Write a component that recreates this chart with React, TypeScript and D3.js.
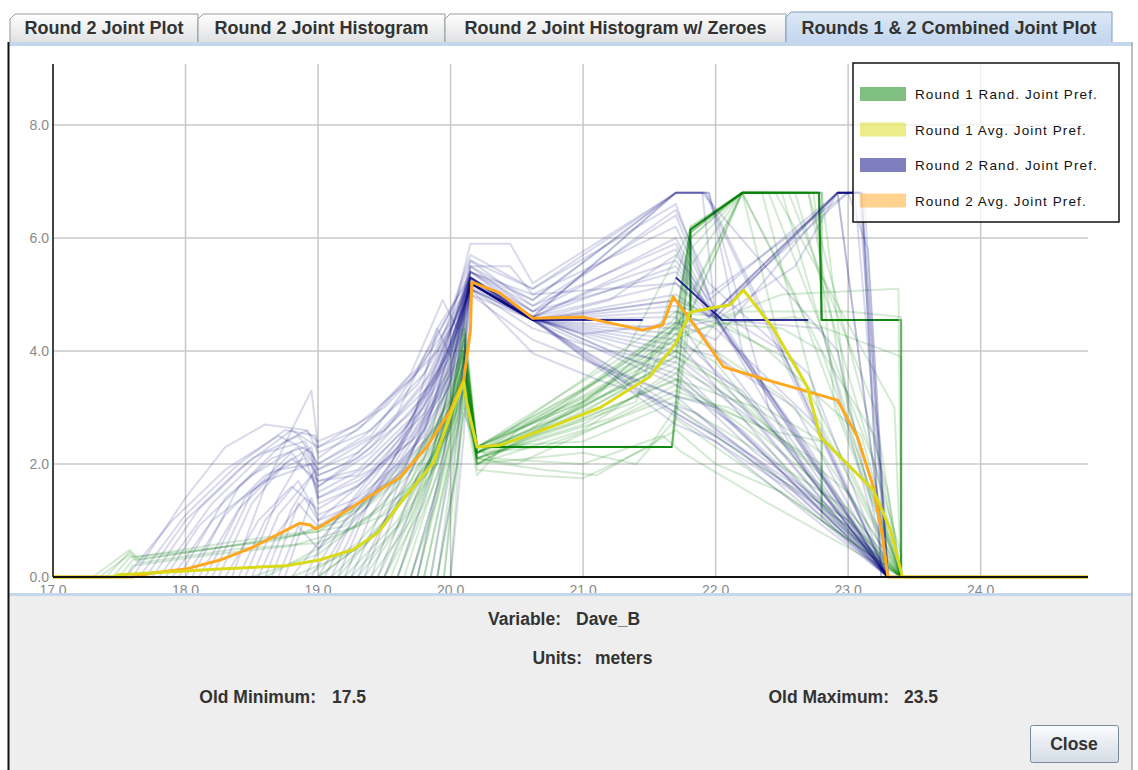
import * as d3 from "d3";
import React from "react";

// axis extents
const X_MIN = 17.0;
const X_MAX = 24.81;
const Y_MAX = 9.08;

const xTicks = [17, 18, 19, 20, 21, 22, 23, 24];
const yTicks = [0, 2, 4, 6, 8];

const tabLabels = [
    "Round 2 Joint Plot",
    "Round 2 Joint Histogram",
    "Round 2 Joint Histogram w/ Zeroes",
    "Rounds 1 & 2 Combined Joint Plot",
];

const legendLabels = [
    "Round 1 Rand. Joint Pref.",
    "Round 1 Avg. Joint Pref.",
    "Round 2 Rand. Joint Pref.",
    "Round 2 Avg. Joint Pref.",
];

const infoVariable = "Dave_B";
const infoUnits = "meters";
const oldMinimum = "17.5";
const oldMaximum = "23.5";

// Round 1 random joint preference curves (green)
const round1Rand: Array<Array<[number, number]>> = [
    [[17.3, 0], [17.58, 0.48], [17.65, 0.3], [18.2, 0.5], [18.7, 0.7], [19.0, 0.8], [19.4, 1.4], [19.8, 2.4], [20.1, 4.0], [20.2, 2.2], [21.0, 3.0], [21.7, 4.0], [21.81, 6.2], [22.2, 6.8], [22.5, 4.0], [23.4, 0]],
    [[17.4, 0], [17.58, 0.45], [17.62, 0.35], [18.3, 0.6], [18.9, 0.8], [19.3, 1.2], [19.7, 2.0], [20.1, 3.5], [20.2, 2.3], [21.67, 2.3], [21.81, 6.0], [22.2, 6.8], [22.8, 4.0], [23.4, 0]],
    [[17.5, 0], [17.6, 0.3], [18.5, 0.6], [19.2, 0.9], [19.6, 1.7], [20.0, 3.0], [20.1, 4.5], [20.2, 2.1], [21.2, 3.0], [21.72, 3.5], [22.3, 2.5], [22.8, 1.3], [23.4, 0]],
    [[18.8, 0], [19.3, 0.5], [19.7, 1.5], [20.0, 3.0], [20.1, 4.2], [20.2, 2.2], [20.6, 2.6], [21.7, 4.5], [21.81, 6.1], [22.2, 6.8], [22.78, 6.8], [22.8, 4.55], [23.4, 4.55], [23.4, 0]],
    [[19.2, 0], [19.6, 1.0], [19.9, 2.3], [20.1, 4.0], [20.2, 2.0], [20.8, 2.8], [21.7, 4.2], [22.0, 3.8], [22.8, 1.5], [23.4, 0]],
    [[19.5, 0], [19.8, 1.3], [20.05, 3.2], [20.1, 3.9], [20.2, 2.3], [21.0, 3.1], [21.7, 4.4], [22.2, 6.8], [22.6, 5.0], [23.4, 0]],
    [[19.6, 0], [19.9, 1.8], [20.1, 3.6], [20.2, 2.1], [20.5, 2.0], [21.7, 3.3], [22.4, 2.6], [22.8, 2.4], [22.8, 1.1], [23.4, 0]],
    [[19.75, 0], [20.0, 2.5], [20.1, 4.4], [20.2, 2.3], [21.67, 2.3], [21.81, 6.15], [22.2, 6.8], [22.74, 6.8], [22.9, 3.0], [23.4, 0]],
    [[19.85, 0], [20.05, 2.8], [20.1, 3.4], [20.2, 1.9], [20.6, 1.8], [21.0, 1.75], [21.5, 2.3], [21.7, 3.0], [22.3, 2.0], [23.0, 1.0], [23.4, 0]],
    [[19.95, 0], [20.1, 3.0], [20.2, 2.2], [21.7, 3.8], [21.81, 5.5], [22.2, 6.8], [22.7, 6.8], [23.0, 3.0], [23.4, 0]],
    [[17.35, 0], [17.58, 0.4], [17.65, 0.25], [18.4, 0.5], [19.0, 0.6], [19.5, 1.1], [19.9, 2.0], [20.1, 3.3], [20.2, 2.0], [21.0, 2.6], [21.7, 3.7], [22.1, 3.2], [23.0, 1.5], [23.4, 0]],
    [[18.5, 0], [19.0, 0.4], [19.5, 1.3], [19.85, 2.5], [20.1, 4.7], [20.2, 2.3], [21.2, 3.6], [21.8, 4.6], [22.2, 6.8], [22.8, 6.8], [23.0, 3.0], [23.4, 0]],
    [[19.0, 0], [19.4, 0.7], [19.8, 1.8], [20.1, 3.7], [20.2, 2.1], [21.0, 2.7], [21.7, 3.6], [22.0, 4.5], [22.5, 4.4], [22.8, 4.0], [23.2, 2.5], [23.4, 0]],
    [[19.3, 0], [19.6, 0.9], [19.95, 2.6], [20.1, 4.1], [20.2, 2.3], [21.7, 3.9], [21.81, 6.0], [22.2, 6.8], [22.5, 6.8], [23.1, 2.0], [23.4, 0]],
    [[19.7, 0], [19.95, 2.0], [20.1, 3.2], [20.2, 2.1], [20.4, 2.0], [20.7, 1.9], [21.1, 1.8], [21.7, 2.6], [22.0, 2.0], [22.5, 1.5], [23.4, 0]],
    [[19.4, 0], [19.7, 1.0], [20.0, 2.7], [20.1, 3.5], [20.2, 2.2], [20.9, 2.9], [21.7, 4.3], [21.81, 6.2], [22.2, 6.8], [22.45, 6.8], [23.35, 3.0], [23.4, 0]],
    [[18.9, 0], [19.3, 0.6], [19.7, 1.7], [20.0, 3.2], [20.1, 4.3], [20.2, 2.3], [20.8, 3.0], [21.7, 4.5], [22.05, 4.6], [22.5, 5.0], [23.38, 5.1], [23.4, 0]],
    [[17.45, 0], [17.58, 0.35], [18.0, 0.45], [18.7, 0.65], [19.2, 1.0], [19.7, 1.9], [20.0, 3.0], [20.1, 3.8], [20.2, 2.2], [21.7, 4.1], [22.2, 6.8], [22.4, 6.8], [23.2, 2.0], [23.4, 0]],
    [[19.65, 0], [19.95, 2.2], [20.1, 3.9], [20.2, 2.0], [21.0, 2.2], [21.4, 2.0], [21.7, 2.8], [22.0, 2.3], [22.8, 1.0], [23.4, 0]],
    [[19.9, 0], [20.08, 3.0], [20.1, 3.5], [20.2, 2.3], [21.67, 2.3], [21.81, 5.8], [22.2, 6.8], [22.8, 6.8], [22.8, 4.55], [23.4, 4.55], [23.4, 0]],
    [[19.1, 0], [19.5, 0.9], [19.9, 2.2], [20.1, 4.0], [20.2, 2.0], [21.3, 3.3], [21.75, 4.6], [22.0, 4.5], [22.6, 3.8], [23.4, 0]],
    [[19.8, 0], [20.0, 2.1], [20.1, 3.1], [20.2, 1.8], [20.5, 2.6], [21.7, 4.0], [22.0, 3.5], [22.8, 2.4], [22.8, 1.2], [23.4, 0]],
    [[20.0, 0], [20.1, 3.3], [20.2, 2.3], [21.7, 4.2], [22.2, 4.7], [23.0, 4.7], [23.4, 4.6], [23.4, 0]],
    [[19.35, 0], [19.7, 1.2], [19.95, 2.6], [20.1, 3.8], [20.2, 2.2], [21.0, 2.9], [21.7, 3.9], [22.0, 3.5], [22.8, 1.8], [23.4, 0]],
    [[19.55, 0], [19.8, 1.5], [20.0, 2.8], [20.1, 3.6], [20.2, 2.3], [21.67, 2.3], [21.81, 4.6], [21.81, 6.15], [22.2, 6.8], [22.78, 6.8], [22.8, 4.55], [23.4, 4.55], [23.4, 0]],
    [[19.45, 0], [19.75, 1.4], [20.0, 3.0], [20.1, 4.1], [20.2, 2.2], [20.9, 2.7], [21.7, 3.5], [22.3, 3.0], [22.8, 2.2], [23.4, 0]],
    [[18.6, 0], [19.0, 0.5], [19.4, 1.1], [19.8, 2.1], [20.1, 3.9], [20.2, 2.1], [21.5, 3.6], [21.7, 4.5], [21.81, 6.15], [22.2, 6.8], [22.6, 6.8], [23.4, 0.4], [23.4, 0]],
    [[17.55, 0], [17.6, 0.2], [18.2, 0.4], [18.8, 0.55], [19.3, 0.9], [19.7, 1.6], [20.0, 2.6], [20.1, 3.3], [20.2, 2.1], [21.2, 2.8], [21.7, 3.4], [22.2, 2.8], [22.8, 1.6], [23.4, 0]],
    [[19.8, 0], [20.02, 2.4], [20.1, 4.0], [20.2, 2.3], [21.1, 3.2], [21.7, 4.6], [21.81, 6.1], [22.2, 6.8], [22.8, 6.8], [22.8, 4.55], [23.4, 4.55], [23.4, 0]],
    [[19.6, 0], [19.85, 1.7], [20.05, 3.3], [20.1, 4.3], [20.2, 2.2], [20.7, 2.3], [21.7, 3.2], [22.1, 3.0], [22.8, 2.0], [22.8, 1.0], [23.4, 0]],
    [[19.9, 0], [20.05, 2.0], [20.1, 2.9], [20.2, 2.3], [21.67, 2.3], [21.81, 5.0], [22.2, 6.8], [22.7, 6.8], [23.3, 1.5], [23.4, 0]],
    [[19.25, 0], [19.6, 0.9], [19.9, 2.0], [20.1, 3.6], [20.2, 2.0], [21.3, 3.4], [21.7, 4.3], [22.1, 4.5], [22.6, 4.6], [23.4, 3.9], [23.4, 0]],
    [[19.7, 0], [19.9, 1.4], [20.08, 3.4], [20.1, 3.9], [20.2, 2.3], [20.3, 2.1], [21.0, 2.0], [21.6, 2.5], [21.75, 2.2], [22.4, 1.3], [23.4, 0]],
    [[19.0, 0], [19.45, 0.8], [19.85, 2.1], [20.1, 4.2], [20.2, 2.2], [21.0, 3.3], [21.7, 4.4], [22.0, 4.0], [22.5, 3.2], [23.0, 2.0], [23.4, 0]],
    [[19.95, 0], [20.1, 3.7], [20.2, 2.3], [21.3, 3.9], [21.81, 6.15], [22.2, 6.8], [22.55, 6.8], [23.2, 3.0], [23.4, 0]],
    [[19.5, 0], [19.8, 1.6], [20.1, 4.4], [20.2, 2.2], [21.0, 3.5], [21.7, 4.7], [22.0, 4.6], [22.4, 4.0], [23.1, 2.5], [23.4, 0]],
    [[19.15, 0], [19.55, 1.1], [19.95, 2.7], [20.1, 3.6], [20.2, 2.1], [21.4, 3.1], [21.81, 6.1], [22.2, 6.8], [22.35, 6.8], [22.8, 2.8], [22.8, 1.3], [23.4, 0]],
    [[19.75, 0], [20.0, 2.3], [20.1, 3.8], [20.2, 2.3], [21.0, 2.4], [21.7, 3.1], [22.2, 2.4], [23.0, 1.2], [23.4, 0]],
];

// segments shared by most round 1 curves (drawn dark)
const round1Core: Array<Array<[number, number]>> = [
    [[20.2, 2.3], [21.67, 2.3]],
    [[21.81, 4.6], [21.81, 6.15], [22.2, 6.8], [22.78, 6.8], [22.8, 4.55], [23.38, 4.55]],
];

// Round 2 random joint preference curves (blue)
const round2Rand: Array<Array<[number, number]>> = [
    [[17.55, 0], [17.9, 1.0], [18.3, 1.9], [18.7, 2.5], [18.95, 2.2], [19.0, 1.6], [19.4, 2.3], [19.8, 3.4], [20.15, 5.3], [20.62, 4.6], [21.7, 6.8], [21.95, 6.8], [22.4, 3.0], [23.3, 0]],
    [[17.7, 0], [18.0, 1.0], [18.4, 1.9], [18.8, 2.6], [19.0, 2.3], [19.5, 3.0], [19.9, 4.0], [20.15, 5.6], [20.62, 5.1], [21.7, 6.8], [21.9, 6.8], [22.0, 4.6], [22.92, 6.8], [23.1, 6.8], [23.3, 0]],
    [[17.85, 0], [18.1, 0.9], [18.5, 1.8], [18.85, 2.3], [19.0, 1.8], [19.3, 2.1], [19.7, 2.9], [20.0, 4.0], [20.15, 5.2], [20.62, 4.6], [21.2, 5.2], [21.7, 5.6], [22.0, 4.6], [22.7, 2.3], [23.3, 0]],
    [[18.0, 0], [18.3, 1.1], [18.6, 1.8], [18.9, 2.1], [19.0, 1.5], [19.4, 2.0], [19.8, 3.0], [20.15, 5.1], [20.62, 4.6], [21.7, 3.5], [22.3, 2.2], [23.0, 1.0], [23.3, 0]],
    [[18.1, 0], [18.4, 1.2], [18.7, 1.9], [18.95, 2.0], [19.0, 1.3], [19.3, 1.6], [19.7, 2.5], [20.0, 3.7], [20.15, 5.2], [20.62, 4.55], [21.7, 4.2], [22.5, 2.0], [23.3, 0]],
    [[17.6, 0], [18.0, 1.4], [18.3, 2.3], [18.6, 2.7], [18.9, 2.6], [19.0, 2.4], [19.3, 2.7], [19.7, 3.5], [20.0, 4.5], [20.15, 5.9], [20.45, 5.9], [20.62, 5.2], [21.7, 6.8], [21.95, 6.8], [22.2, 4.0], [23.3, 0]],
    [[18.25, 0], [18.5, 1.3], [18.75, 2.0], [18.95, 2.3], [19.0, 1.8], [19.2, 2.0], [19.5, 2.6], [19.85, 3.4], [20.15, 5.3], [20.62, 4.7], [21.7, 6.0], [22.0, 4.6], [23.3, 0]],
    [[18.4, 0], [18.6, 1.0], [18.85, 1.7], [19.0, 1.1], [19.3, 1.4], [19.6, 2.0], [19.95, 3.3], [20.15, 5.0], [20.62, 4.55], [21.7, 2.9], [22.0, 2.5], [23.0, 0.9], [23.3, 0]],
    [[18.55, 0], [18.7, 0.8], [18.9, 1.4], [19.0, 1.0], [19.3, 1.3], [19.6, 1.8], [19.9, 2.7], [20.15, 5.2], [20.62, 4.55], [21.7, 4.8], [22.0, 4.6], [22.92, 6.8], [23.1, 6.8], [23.3, 0]],
    [[18.7, 0], [18.85, 0.9], [19.0, 0.5], [19.3, 1.2], [19.7, 2.2], [20.0, 3.4], [20.15, 5.3], [20.62, 4.6], [21.2, 4.0], [21.7, 3.8], [22.6, 2.2], [23.3, 0]],
    [[18.35, 0], [18.6, 1.6], [18.8, 2.6], [18.95, 3.3], [19.0, 2.3], [19.3, 2.6], [19.7, 3.6], [19.94, 4.9], [20.05, 4.4], [20.15, 5.6], [20.62, 4.8], [21.7, 6.4], [22.0, 4.7], [23.3, 0]],
    [[18.9, 0], [19.1, 0.9], [19.4, 1.7], [19.7, 2.6], [19.9, 4.4], [20.0, 3.9], [20.15, 5.4], [20.62, 5.0], [21.7, 5.2], [22.0, 4.6], [22.7, 1.8], [23.3, 0]],
    [[19.1, 0], [19.3, 1.0], [19.6, 2.1], [19.9, 3.2], [20.15, 5.1], [20.62, 3.96], [21.1, 3.5], [21.86, 2.9], [22.5, 1.7], [23.3, 0]],
    [[19.3, 0], [19.5, 1.0], [19.8, 2.3], [20.0, 3.5], [20.15, 5.2], [20.62, 4.55], [21.7, 5.0], [21.95, 4.6], [22.92, 6.8], [23.05, 6.8], [23.3, 0]],
    [[19.5, 0], [19.7, 1.2], [19.9, 2.5], [20.15, 5.0], [20.62, 4.2], [21.7, 3.2], [22.0, 2.6], [22.8, 1.3], [23.3, 0]],
    [[19.7, 0], [19.9, 1.6], [20.1, 3.8], [20.15, 5.2], [20.62, 4.55], [21.7, 4.0], [22.2, 3.3], [23.3, 0]],
    [[19.9, 0], [20.05, 2.0], [20.15, 5.5], [20.62, 4.9], [21.7, 6.8], [21.92, 6.8], [22.6, 3.4], [23.3, 0]],
    [[17.8, 0], [18.2, 1.3], [18.6, 2.2], [18.9, 2.4], [19.0, 2.0], [19.4, 2.5], [19.8, 3.8], [20.15, 5.4], [20.62, 4.6], [21.7, 5.8], [21.95, 4.6], [22.92, 6.8], [23.1, 6.8], [23.25, 0]],
    [[18.2, 0], [18.5, 1.5], [18.8, 2.1], [19.0, 1.7], [19.3, 1.9], [19.7, 2.8], [20.0, 4.1], [20.15, 5.25], [20.62, 4.55], [21.7, 4.6], [22.0, 3.6], [23.3, 0]],
    [[18.6, 0], [18.8, 1.2], [18.98, 1.9], [19.0, 1.4], [19.4, 1.9], [19.8, 2.9], [20.15, 5.1], [20.62, 4.55], [21.3, 3.6], [21.7, 3.2], [22.0, 3.0], [23.3, 0]],
    [[19.0, 0], [19.2, 0.8], [19.5, 1.6], [19.8, 2.6], [20.15, 5.1], [20.62, 4.55], [21.7, 4.3], [22.3, 3.0], [23.3, 0]],
    [[17.65, 0], [18.0, 1.1], [18.4, 2.0], [18.75, 2.6], [18.98, 2.5], [19.0, 2.1], [19.4, 2.8], [19.75, 3.7], [20.0, 4.7], [20.15, 5.7], [20.62, 5.1], [21.7, 6.6], [21.95, 5.0], [23.0, 6.8], [23.12, 6.8], [23.3, 0]],
    [[19.2, 0], [19.4, 1.1], [19.7, 2.2], [20.0, 3.6], [20.15, 5.3], [20.62, 4.6], [21.7, 3.7], [22.1, 2.8], [23.3, 0]],
    [[19.6, 0], [19.85, 1.8], [20.1, 4.2], [20.15, 5.2], [20.62, 4.55], [21.7, 4.9], [22.0, 4.0], [23.3, 0]],
    [[18.8, 0], [19.0, 0.6], [19.3, 1.5], [19.6, 2.4], [19.9, 3.6], [20.15, 5.4], [20.62, 4.7], [21.7, 5.4], [21.95, 4.8], [22.5, 4.0], [23.3, 0]],
    [[20.0, 0], [20.1, 2.5], [20.15, 5.2], [20.62, 4.55], [21.7, 3.0], [22.3, 2.1], [23.2, 0.4], [23.3, 0]],
    [[18.45, 0], [18.7, 1.4], [18.9, 2.2], [19.0, 1.9], [19.3, 2.2], [19.6, 2.9], [19.9, 4.4], [20.15, 5.3], [20.62, 4.6], [21.7, 6.8], [21.9, 6.8], [22.92, 4.0], [23.3, 0]],
    [[19.4, 0], [19.6, 1.3], [19.9, 3.0], [20.15, 5.25], [20.62, 4.55], [21.7, 4.4], [22.0, 4.55], [22.6, 5.5], [22.92, 6.8], [23.0, 6.8], [23.15, 5.8], [23.3, 0]],
    [[17.75, 0], [18.1, 1.2], [18.5, 2.1], [18.85, 2.5], [19.0, 2.0], [19.35, 2.5], [19.75, 3.4], [20.05, 4.6], [20.15, 5.4], [20.62, 4.8], [21.7, 5.9], [21.95, 4.7], [22.6, 2.6], [23.3, 0]],
    [[17.95, 0], [18.3, 1.4], [18.65, 2.1], [18.9, 2.3], [19.0, 1.9], [19.5, 2.6], [19.85, 3.6], [20.15, 5.2], [20.62, 4.55], [21.7, 3.4], [22.2, 2.6], [23.1, 0.6], [23.3, 0]],
    [[18.15, 0], [18.45, 1.4], [18.8, 2.2], [19.0, 1.6], [19.4, 2.2], [19.8, 3.2], [20.15, 5.3], [20.62, 4.6], [21.0, 4.3], [21.7, 4.5], [22.0, 4.2], [22.92, 6.8], [23.3, 0]],
    [[18.3, 0], [18.55, 1.0], [18.8, 1.6], [19.0, 1.2], [19.35, 1.7], [19.75, 2.5], [20.15, 5.15], [20.62, 4.55], [21.7, 3.9], [22.2, 3.0], [23.3, 0]],
    [[18.5, 0], [18.7, 1.1], [18.95, 1.8], [19.0, 1.4], [19.3, 1.7], [19.7, 2.4], [20.05, 3.8], [20.15, 5.3], [20.62, 4.6], [21.7, 5.5], [22.0, 4.6], [23.3, 0]],
    [[18.65, 0], [18.85, 1.3], [19.0, 0.9], [19.4, 1.5], [19.8, 2.5], [20.15, 5.2], [20.62, 4.55], [21.7, 4.7], [22.0, 4.4], [22.8, 2.6], [23.3, 0]],
    [[19.05, 0], [19.3, 1.2], [19.6, 2.2], [19.92, 3.7], [20.15, 5.5], [20.45, 5.5], [20.62, 5.0], [21.7, 6.2], [22.0, 4.7], [22.92, 6.8], [23.08, 6.8], [23.3, 0]],
    [[19.25, 0], [19.5, 1.3], [19.8, 2.6], [20.1, 4.4], [20.15, 5.2], [20.62, 4.55], [21.7, 2.7], [22.0, 2.4], [23.3, 0]],
    [[19.45, 0], [19.7, 1.5], [19.95, 3.0], [20.15, 5.4], [20.62, 4.9], [21.7, 6.8], [21.93, 6.8], [22.3, 5.0], [23.3, 0]],
    [[19.75, 0], [19.95, 2.2], [20.15, 5.3], [20.62, 4.55], [21.7, 4.1], [22.0, 3.9], [22.6, 3.0], [23.3, 0]],
    [[19.85, 0], [20.05, 2.6], [20.15, 5.1], [20.62, 4.4], [21.7, 3.6], [22.4, 2.1], [23.3, 0]],
    [[17.9, 0], [18.2, 1.0], [18.6, 1.7], [18.95, 2.0], [19.0, 1.7], [19.3, 1.8], [19.65, 2.6], [20.0, 3.9], [20.15, 5.2], [20.62, 4.6], [21.7, 5.2], [21.95, 4.6], [23.0, 6.8], [23.1, 6.8], [23.25, 0]],
    [[18.75, 0], [18.95, 1.4], [19.0, 1.0], [19.3, 1.6], [19.6, 2.3], [19.9, 3.4], [20.15, 5.3], [20.62, 4.55], [21.7, 4.9], [22.05, 4.55], [22.8, 4.4], [23.3, 0]],
    [[19.15, 0], [19.4, 1.4], [19.75, 2.8], [20.1, 4.6], [20.15, 5.5], [20.62, 4.7], [21.7, 6.5], [21.95, 5.2], [22.7, 3.6], [23.3, 0]],
    [[18.05, 0], [18.4, 1.6], [18.75, 2.4], [18.92, 2.6], [19.0, 2.2], [19.4, 2.6], [19.8, 3.6], [20.15, 5.3], [20.62, 4.55], [21.4, 3.3], [21.86, 2.6], [22.6, 1.5], [23.3, 0]],
    [[19.35, 0], [19.6, 1.6], [19.9, 3.3], [20.15, 5.3], [20.62, 4.55], [21.2, 4.9], [21.7, 5.7], [21.95, 4.9], [22.92, 6.8], [23.3, 0]],
    [[18.95, 0], [19.2, 1.0], [19.55, 2.0], [19.9, 3.8], [20.15, 5.2], [20.62, 4.6], [21.0, 3.9], [21.7, 2.9], [22.2, 2.2], [23.3, 0]],
];

// segments shared by most round 2 curves (drawn dark)
const round2Core: Array<Array<[number, number]>> = [
    [[20.15, 5.2], [20.62, 4.55], [21.45, 4.55]],
    [[21.7, 5.3], [22.05, 4.55], [22.7, 4.55]],
    [[22.92, 6.8], [23.09, 6.8]],
];

const round1Avg: Array<[number, number]> = [
    [17.45, 0], [17.5, 0.04], [18.26, 0.14], [18.76, 0.2], [19.01, 0.3], [19.26, 0.48], [19.45, 0.78], [19.62, 1.31], [19.87, 2.02],
    [20.02, 3.0], [20.1, 3.45], [20.12, 3.1], [20.2, 2.3], [20.37, 2.33], [20.75, 2.65], [21.13, 3.0], [21.5, 3.54], [21.7, 4.14],
    [21.81, 4.69], [22.11, 4.82], [22.21, 5.08], [22.43, 4.42], [22.69, 3.37], [22.79, 2.48], [23.19, 1.54], [23.32, 0.83], [23.41, 0],
];

const round2Avg: Array<[number, number]> = [
    [17.6, 0], [17.75, 0.07], [18.0, 0.14], [18.26, 0.3], [18.51, 0.53], [18.76, 0.83], [18.86, 0.95], [18.94, 0.92], [18.98, 0.85],
    [19.01, 0.88], [19.26, 1.24], [19.62, 1.77], [19.82, 2.3], [20.0, 2.95], [20.1, 3.49], [20.15, 4.37], [20.16, 5.22], [20.37, 5.03],
    [20.62, 4.58], [21.0, 4.6], [21.45, 4.37], [21.6, 4.46], [21.68, 4.96], [21.81, 4.55], [22.06, 3.72], [22.31, 3.54], [22.92, 3.13],
    [23.07, 2.48], [23.19, 1.6], [23.26, 0.71], [23.3, 0],
];

const GREEN = "#008000";
const YELLOW = "#dada18";
const NAVY = "#000080";
const ORANGE = "#ffa71f";
const legendColors = [GREEN, YELLOW, NAVY, ORANGE];

const width = 1138;
const height = 770;
const plot = { left: 53, right: 1088, top: 64, bottom: 577 };
const sans = "'Liberation Sans', Arial, sans-serif";

// tab x edges
const tabEdges = [10, 198, 445, 786, 1112];

const App: React.FC = () => {
    const x = d3.scaleLinear().domain([X_MIN, X_MAX]).range([plot.left, plot.right]);
    const y = d3.scaleLinear().domain([0, Y_MAX]).range([plot.bottom, plot.top]);
    const line = d3.line<[number, number]>().x((d) => x(d[0])).y((d) => y(d[1]));
    // curves sit on zero outside their support
    const full = (pts: Array<[number, number]>) =>
        line([[X_MIN, 0], ...pts, [X_MAX, 0]]) || "";

    return (
        <svg width={width} height={height} style={{ position: "absolute", left: 0, top: 0 }}
            fontFamily={sans}>
            <defs>
                <linearGradient id="tabGrad" x1="0" y1="0" x2="0" y2="1">
                    <stop offset="0" stopColor="#ffffff" />
                    <stop offset="1" stopColor="#dfe0e2" />
                </linearGradient>
                <linearGradient id="tabSel" x1="0" y1="0" x2="0" y2="1">
                    <stop offset="0" stopColor="#dce8f5" />
                    <stop offset="1" stopColor="#c2d6ee" />
                </linearGradient>
                <linearGradient id="btnGrad" x1="0" y1="0" x2="0" y2="1">
                    <stop offset="0" stopColor="#fbfcfd" />
                    <stop offset="1" stopColor="#d3dbe4" />
                </linearGradient>
                <clipPath id="panelClip">
                    <rect x={10} y={46} width={1120} height={547} />
                </clipPath>
                <clipPath id="plotClip">
                    <rect x={plot.left} y={plot.top} width={plot.right - plot.left} height={plot.bottom - plot.top + 2} />
                </clipPath>
            </defs>

            <rect width={width} height={height} fill="#ffffff" />

            {/* tabs */}
            {tabLabels.map((label, i) => {
                const x0 = tabEdges[i];
                const x1 = tabEdges[i + 1];
                const sel = i === tabLabels.length - 1;
                const y0 = sel ? 12 : 14;
                return (
                    <g key={label}>
                        <path d={`M${x0},43 L${x0},${y0 + 5} L${x0 + 5},${y0} L${x1},${y0} L${x1},43`}
                            fill={sel ? "url(#tabSel)" : "url(#tabGrad)"}
                            stroke={sel ? "#7f9db9" : "#919b9c"} strokeWidth={1} />
                        <text x={(x0 + x1) / 2} y={34} textAnchor="middle" fontSize={18}
                            fontWeight="bold" fill="#333333">{label}</text>
                    </g>
                );
            })}

            {/* content frame */}
            <rect x={8} y={42} width={1124} height={4} fill="#c4d7ec" />
            <rect x={10} y={46} width={1120} height={547} fill="#ffffff" />
            <rect x={8} y={593} width={1124} height={3} fill="#c4d7ec" />
            <rect x={8} y={596} width={1124} height={174} fill="#eeeeee" />
            <line x1={8.5} y1={42} x2={8.5} y2={770} stroke="#111" strokeWidth={2} />
            <line x1={1132} y1={42} x2={1132} y2={770} stroke="#a0a8b0" strokeWidth={1.5} />

            <g clipPath="url(#panelClip)">
                {/* grid */}
                {xTicks.slice(1).map((t) => (
                    <line key={`gx${t}`} x1={x(t)} x2={x(t)} y1={plot.top} y2={plot.bottom}
                        stroke="#c8c8c8" strokeWidth={1.5} />
                ))}
                {yTicks.slice(1).map((t) => (
                    <line key={`gy${t}`} x1={plot.left} x2={plot.right} y1={y(t)} y2={y(t)}
                        stroke="#c8c8c8" strokeWidth={1.5} />
                ))}

                <g clipPath="url(#plotClip)" fill="none" strokeLinejoin="round">
                    {round1Rand.map((pts, i) => (
                        <path key={`g${i}`} d={full(pts)} stroke={GREEN} strokeOpacity={0.17} strokeWidth={2} />
                    ))}
                    {round1Core.map((pts, i) => (
                        <path key={`gc${i}`} d={line(pts) || ""} stroke={GREEN} strokeOpacity={0.85} strokeWidth={2} />
                    ))}
                    {round2Rand.map((pts, i) => (
                        <path key={`b${i}`} d={full(pts)} stroke={NAVY} strokeOpacity={0.15} strokeWidth={2} />
                    ))}
                    {round2Core.map((pts, i) => (
                        <path key={`bc${i}`} d={line(pts) || ""} stroke={NAVY} strokeOpacity={0.8} strokeWidth={2} />
                    ))}
                    <path d={full(round2Avg)} stroke={ORANGE} strokeWidth={3} />
                    <path d={full(round1Avg)} stroke={YELLOW} strokeWidth={3} />
                </g>

                {/* axes */}
                <line x1={plot.left} x2={plot.left} y1={plot.top} y2={plot.bottom} stroke="#444" strokeWidth={2} />
                <line x1={plot.left} x2={plot.right} y1={plot.bottom} y2={plot.bottom} stroke="#111" strokeWidth={2} />
                {yTicks.map((t) => (
                    <text key={`ty${t}`} x={plot.left - 4} y={y(t)} dy="0.35em" textAnchor="end"
                        fontSize={14} fill="#8a8a8a">{d3.format(".1f")(t)}</text>
                ))}
                {xTicks.map((t) => (
                    <text key={`tx${t}`} x={x(t)} y={595} textAnchor="middle"
                        fontSize={14} fill="#8a8a8a">{d3.format(".1f")(t)}</text>
                ))}

                {/* legend */}
                <rect x={853} y={63} width={266} height={159} fill="#ffffff" fillOpacity={0.75}
                    stroke="#111" strokeWidth={1.5} />
                {legendLabels.map((label, i) => (
                    <g key={label} transform={`translate(860, ${87 + i * 35.5})`}>
                        <rect width={46} height={14} fill={legendColors[i]} opacity={0.5} />
                        <text x={55} y={12} fontSize={13.5} letterSpacing={1.1} fill="#111">{label}</text>
                    </g>
                ))}
            </g>

            {/* info panel */}
            <g fontWeight="bold" fontSize={17.5} fill="#333333">
                <text x={561} y={625} textAnchor="end">Variable:</text>
                <text x={576} y={625}>{infoVariable}</text>
                <text x={582} y={664} textAnchor="end">Units:</text>
                <text x={595} y={664}>{infoUnits}</text>
                <text x={316} y={703} textAnchor="end">Old Minimum:</text>
                <text x={332} y={703}>{oldMinimum}</text>
                <text x={889} y={703} textAnchor="end">Old Maximum:</text>
                <text x={904} y={703}>{oldMaximum}</text>
            </g>

            <rect x={1030.5} y={725.5} width={88} height={37} rx={2} fill="url(#btnGrad)"
                stroke="#7a8a99" strokeWidth={1} />
            <text x={1074} y={750} textAnchor="middle" fontSize={17.5} fontWeight="bold" fill="#333333">Close</text>
        </svg>
    );
};

export default App;
